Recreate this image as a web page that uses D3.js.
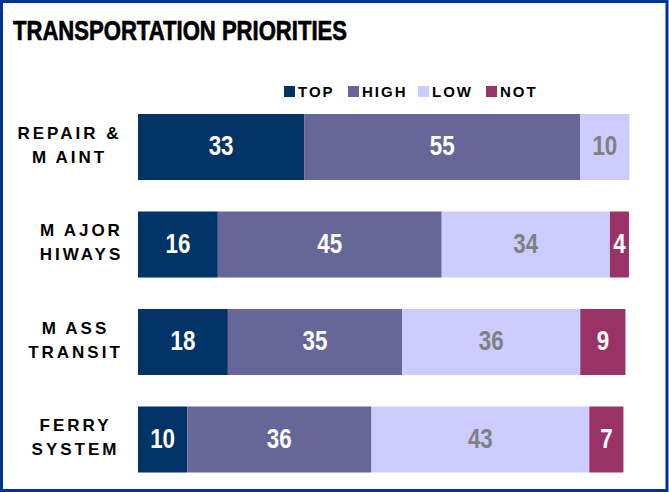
<!DOCTYPE html>
<html>
<head>
<meta charset="utf-8">
<script src="https://cdn.jsdelivr.net/npm/d3@7"></script>
<style>
body { margin: 0; background: #fff; }
</style>
</head>
<body>
<script>
var w = 669;
var h = 492;

var categories = [["REPAIR &", "M\u2009AINT"], ["M\u2009AJOR", "HIWAYS"], ["M\u2009ASS", "TRANSIT"], ["FERRY", "SYSTEM"]];
var seriesNames = ["TOP", "HIGH", "LOW", "NOT"];
// bar lengths
var topVals = [33.1, 15.9, 17.9, 9.8];
var highVals = [55.0, 44.6, 34.7, 36.7];
var lowVals = [9.8, 33.5, 35.5, 43.4];
var notVals = [0, 3.8, 9.0, 6.8];
// printed labels
var topLabels = ["33", "16", "18", "10"];
var highLabels = ["55", "45", "35", "36"];
var lowLabels = ["10", "34", "36", "43"];
var notLabels = ["", "4", "9", "7"];

var colors = ["#003366", "#666699", "#CCCCFF", "#993366"];
var textColors = ["#ffffff", "#ffffff", "#808080", "#ffffff"];
var labelCenters = [68, 80, 74, 74];

var rows = categories.map(function (c, i) {
    return {
        name: c,
        vals: [topVals[i], highVals[i], lowVals[i], notVals[i]],
        labels: [topLabels[i], highLabels[i], lowLabels[i], notLabels[i]]
    };
});

var svg = d3.select("body")
    .append("svg")
    .attr("width", w)
    .attr("height", h);

// frame
svg.append("rect")
    .attr("x", 1.5)
    .attr("y", 1.5)
    .attr("width", w - 3.5)
    .attr("height", h - 3)
    .attr("fill", "#fff")
    .attr("stroke", "#003399")
    .attr("stroke-width", 3);

svg.append("text")
    .attr("x", 13)
    .attr("y", 40)
    .attr("textLength", 334)
    .attr("lengthAdjust", "spacingAndGlyphs")
    .attr("stroke", "#000")
    .attr("stroke-width", 0.7)
    .style("font-family", "'Liberation Sans', Arial, sans-serif")
    .style("font-weight", "bold")
    .style("font-size", "28px")
    .text("TRANSPORTATION PRIORITIES");

var x = d3.scaleLinear()
    .domain([0, 100])
    .range([138, 640]);

var y = d3.scaleBand()
    .domain(d3.range(rows.length))
    .range([98.25, 488.25])
    .paddingInner(0.323)
    .paddingOuter(0.1615);

// legend
var legendX = [284, 348, 418, 486];
var legend = svg.selectAll(".legend")
    .data(seriesNames)
    .enter()
    .append("g")
    .attr("class", "legend")
    .attr("transform", function (d, i) {
        return "translate(" + legendX[i] + ",86)";
    });

legend.append("rect")
    .attr("width", 11)
    .attr("height", 11)
    .attr("fill", function (d, i) {
        return colors[i];
    });

legend.append("text")
    .attr("x", 14)
    .attr("y", 11)
    .style("font-family", "'Liberation Sans', Arial, sans-serif")
    .style("font-weight", "bold")
    .style("font-size", "15px")
    .style("letter-spacing", "2px")
    .text(function (d) {
        return d;
    });

// bars
var rowG = svg.selectAll(".row")
    .data(rows)
    .enter()
    .append("g")
    .attr("class", "row")
    .attr("transform", function (d, i) {
        return "translate(0," + y(i) + ")";
    });

rowG.each(function (d, i) {
    var g = d3.select(this);
    var acc = 0;
    var segs = d.vals.map(function (v, k) {
        var s = { v: v, k: k, start: acc, label: d.labels[k] };
        acc += v;
        return s;
    }).filter(function (s) {
        return s.v > 0;
    });

    g.selectAll("rect")
        .data(segs)
        .enter()
        .append("rect")
        .attr("x", function (s) {
            return x(s.start);
        })
        .attr("y", 0)
        .attr("width", function (s) {
            return x(s.start + s.v) - x(s.start);
        })
        .attr("height", y.bandwidth())
        .attr("fill", function (s) {
            return colors[s.k];
        });

    g.selectAll(".val")
        .data(segs)
        .enter()
        .append("text")
        .attr("class", "val")
        .attr("transform", function (s) {
            var cx = (x(s.start) + x(s.start + s.v)) / 2;
            return "translate(" + cx + "," + (y.bandwidth() / 2 + 8) + ") scale(0.8,1)";
        })
        .attr("text-anchor", "middle")
        .attr("fill", function (s) {
            return textColors[s.k];
        })
        .style("font-family", "'Liberation Sans', Arial, sans-serif")
        .style("font-weight", "bold")
        .style("font-size", "28px")
        .text(function (s) {
            return s.label;
        });

    g.selectAll(".cat")
        .data(d.name)
        .enter()
        .append("text")
        .attr("class", "cat")
        .attr("x", labelCenters[i] + 1.5)
        .attr("y", function (t, j) {
            return 25 + j * 24;
        })
        .attr("text-anchor", "middle")
        .style("font-family", "'Liberation Sans', Arial, sans-serif")
        .style("font-weight", "bold")
        .style("font-size", "17px")
        .style("letter-spacing", "3px")
        .text(function (t) {
            return t;
        });
});
</script>
</body>
</html>
